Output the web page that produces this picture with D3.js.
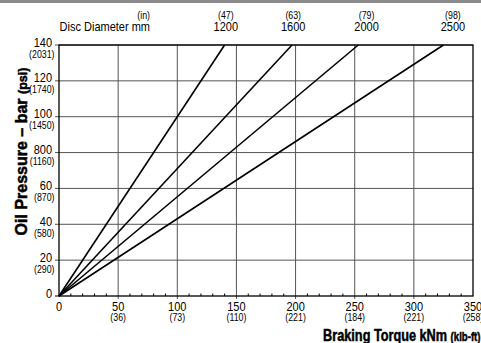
<!DOCTYPE html>
<html>
<head>
<meta charset="utf-8">
<script src="https://cdn.jsdelivr.net/npm/d3@7"></script>
<style>
  html, body { margin: 0; padding: 0; background: #fff; }
  svg { display: block; font-family: "Liberation Sans", Arial, sans-serif; }
</style>
</head>
<body>
<script>
// chart values
const torqueTicks = [0, 50, 100, 150, 200, 250, 300, 350];
const klbftLabels = ["", "(36)", "(73)", "(110)", "(221)", "(184)", "(221)", "(258)"];
const pressureTicks = [0, 20, 40, 60, 80, 100, 120, 140];
const barLabels = ["0", "20", "40", "60", "800", "100", "120", "140"];
const psiLabels = ["", "(290)", "(580)", "(870)", "(1160)", "(1450)", "(1740)", "(2031)"];
const discMm = ["1200", "1600", "2000", "2500"];
const discIn = ["(47)", "(63)", "(79)", "(98)"];
const torqueAtMax = [140, 197, 253, 325];    // torque reached at 140 bar
const discLabelTorque = [141, 198, 260, 333];

const W = 481, H = 343;
const m = { top: 45, right: 8, bottom: 47, left: 59 };
const NARROW = 0.88;   // squeeze text horizontally, the original uses a narrow face

const svg = d3.select("body").append("svg")
  .attr("width", W).attr("height", H);

// places a text at (px, py) squeezed horizontally
const at = (px, py, s = NARROW) => `translate(${px},${py}) scale(${s},1)`;

// grey strip along the top edge
svg.append("rect").attr("x", 0).attr("y", 0).attr("width", W).attr("height", 3).attr("fill", "#8a8a8a");

const x = d3.scaleLinear().domain([0, 350]).range([m.left, W - m.right]);
const y = d3.scaleLinear().domain([0, 140]).range([H - m.bottom, m.top]);

const g = svg.append("g");

// grid
g.selectAll(".vgrid").data(torqueTicks.slice(1, -1)).enter().append("line")
  .attr("x1", d => x(d)).attr("x2", d => x(d))
  .attr("y1", y(0) + 3).attr("y2", y(140))
  .attr("stroke", "#555").attr("stroke-width", 1);
g.selectAll(".hgrid").data(pressureTicks.slice(1)).enter().append("line")
  .attr("x1", x(0) - 4).attr("x2", x(350))
  .attr("y1", d => y(d)).attr("y2", d => y(d))
  .attr("stroke", "#555").attr("stroke-width", 1);

// minor ticks along the torque axis
g.selectAll(".minor").data(d3.range(10, 350, 10).filter(v => v % 50)).enter().append("line")
  .attr("x1", d => x(d)).attr("x2", d => x(d))
  .attr("y1", y(0)).attr("y2", y(0) - 2.5)
  .attr("stroke", "#000").attr("stroke-width", 1);

// frame
g.append("rect")
  .attr("x", x(0)).attr("y", y(140))
  .attr("width", x(350) - x(0)).attr("height", y(0) - y(140))
  .attr("fill", "none").attr("stroke", "#000").attr("stroke-width", 1.3);
g.append("line").attr("x1", x(0) - 4).attr("x2", x(0)).attr("y1", y(0)).attr("y2", y(0)).attr("stroke", "#000");

// disc lines
const line = d3.line().x(d => x(d[0])).y(d => y(d[1]));
g.selectAll(".disc").data(torqueAtMax).enter().append("path")
  .attr("d", t => line([[0, 0], [t, 140]]))
  .attr("fill", "none").attr("stroke", "#000").attr("stroke-width", 1.6);

// x tick labels
const xl = svg.append("g").attr("fill", "#000").attr("text-anchor", "middle");
xl.selectAll(".xt").data(torqueTicks).enter().append("text")
  .attr("transform", d => at(x(d), y(0) + 14.5)).attr("font-size", 12.5).text(d => d);
xl.selectAll(".xs").data(torqueTicks).enter().append("text")
  .attr("transform", d => at(x(d), y(0) + 24.5)).attr("font-size", 10)
  .text((d, i) => klbftLabels[i]);

// y tick labels
const yl = svg.append("g").attr("fill", "#000").attr("text-anchor", "end");
yl.selectAll(".yt").data(pressureTicks).enter().append("text")
  .attr("transform", d => at(x(0) - 7, y(d) + 1.5)).attr("font-size", 12.5)
  .text((d, i) => barLabels[i]);
yl.selectAll(".ys").data(pressureTicks).enter().append("text")
  .attr("transform", d => at(x(0) - 4.5, y(d) + 12.5)).attr("font-size", 10)
  .text((d, i) => psiLabels[i]);

// disc diameter labels
const tl = svg.append("g").attr("fill", "#000").attr("text-anchor", "middle");
tl.selectAll(".dm").data(discMm).enter().append("text")
  .attr("transform", (d, i) => at(x(discLabelTorque[i]), 31)).attr("font-size", 12.5).text(d => d);
tl.selectAll(".di").data(discIn).enter().append("text")
  .attr("transform", (d, i) => at(x(discLabelTorque[i]), 18.5)).attr("font-size", 10).text(d => d);
svg.append("text").attr("transform", at(150, 31)).attr("text-anchor", "end")
  .attr("font-size", 12.5).attr("fill", "#000").text("Disc Diameter mm");
svg.append("text").attr("transform", at(150, 18.5)).attr("text-anchor", "end")
  .attr("font-size", 10).attr("fill", "#000").text("(in)");

// axis titles, heavy condensed look: bold plus a thin outline
const xt = svg.append("text").attr("transform", at(W - 0.5, 341, 0.77)).attr("text-anchor", "end")
  .attr("font-weight", "bold").attr("fill", "#000")
  .attr("stroke", "#000").attr("stroke-width", 0.5);
xt.append("tspan").attr("font-size", 16.5).text("Braking Torque kNm ");
xt.append("tspan").attr("font-size", 12.5).text("(klb-ft)");

const yt = svg.append("text").attr("transform", `translate(27,${(63 + 240) / 2}) rotate(-90)`)
  .attr("text-anchor", "middle").attr("font-weight", "bold").attr("fill", "#000")
  .attr("stroke", "#000").attr("stroke-width", 0.5);
yt.append("tspan").attr("font-size", 16).text("Oil Pressure – bar ");
yt.append("tspan").attr("font-size", 12.5).text("(psi)");
</script>
</body>
</html>
